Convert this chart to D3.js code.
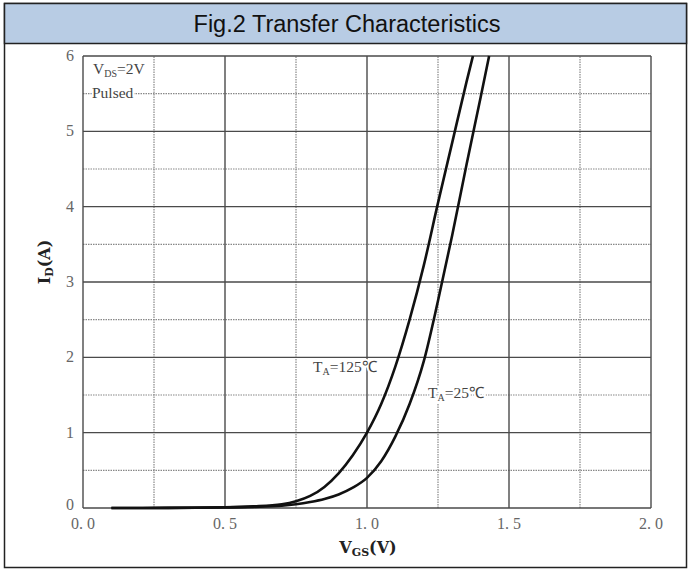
<!DOCTYPE html>
<html>
<head>
<meta charset="utf-8">
<script src="https://cdn.jsdelivr.net/npm/d3@7"></script>
<style>
  body { margin: 0; background: #fff; }
  svg { display: block; }
</style>
</head>
<body>
<script>
// chart values
var xTicks = [0, 0.5, 1.0, 1.5, 2.0];
var xTickLabels = ["0. 0", "0. 5", "1. 0", "1. 5", "2. 0"];
var yTicks = [0, 1, 2, 3, 4, 5, 6];

var vgs125 = [0.1, 0.3, 0.5, 0.6, 0.7, 0.75, 0.8, 0.85, 0.9, 0.95, 1.0, 1.05, 1.1, 1.15, 1.2, 1.25, 1.3, 1.35, 1.373];
var id125  = [0, 0.002, 0.01, 0.022, 0.05, 0.09, 0.16, 0.28, 0.46, 0.7, 1.0, 1.38, 1.88, 2.5, 3.22, 4.05, 4.85, 5.65, 6.0];

var vgs25 = [0.1, 0.3, 0.5, 0.6, 0.7, 0.75, 0.8, 0.85, 0.9, 0.95, 1.0, 1.05, 1.1, 1.15, 1.2, 1.25, 1.3, 1.35, 1.4, 1.43];
var id25  = [0, 0.002, 0.008, 0.015, 0.03, 0.05, 0.08, 0.12, 0.18, 0.27, 0.4, 0.62, 0.95, 1.38, 1.95, 2.75, 3.62, 4.55, 5.45, 6.0];

var seriesNames = ["125", "25"];

function main() {
    var W = 692, H = 572;
    var left = 83, right = 651, top = 56, bottom = 508;

    var svg = d3.select("body").append("svg")
        .attr("width", W)
        .attr("height", H);

    // outer frame + title band
    svg.append("rect")
        .attr("x", 4.5).attr("y", 3.5)
        .attr("width", 682).attr("height", 564)
        .attr("fill", "#fff").attr("stroke", "#222").attr("stroke-width", 1.5);
    svg.append("rect")
        .attr("x", 4.5).attr("y", 3.5)
        .attr("width", 682).attr("height", 40)
        .attr("fill", "#b8cce4").attr("stroke", "#222").attr("stroke-width", 1.5);
    svg.append("text")
        .attr("x", 347).attr("y", 32)
        .attr("text-anchor", "middle")
        .attr("font-family", "Liberation Sans, Arial, sans-serif")
        .attr("font-size", 23.5)
        .attr("fill", "#111")
        .text("Fig.2 Transfer Characteristics");

    var x = d3.scaleLinear().domain([0, 2]).range([left, right]);
    var y = d3.scaleLinear().domain([0, 6]).range([bottom, top]);

    // dotted minor grid
    var g = svg.append("g");
    d3.range(0.25, 2, 0.5).forEach(function (v) {
        g.append("line")
            .attr("x1", x(v)).attr("x2", x(v))
            .attr("y1", y(0)).attr("y2", y(6))
            .attr("stroke", "#888").attr("stroke-width", 1.2)
            .attr("stroke-dasharray", "1.5,1");
    });
    d3.range(0.5, 6, 1).forEach(function (v) {
        g.append("line")
            .attr("x1", x(0)).attr("x2", x(2))
            .attr("y1", y(v)).attr("y2", y(v))
            .attr("stroke", "#888").attr("stroke-width", 1.2)
            .attr("stroke-dasharray", "1.5,1");
    });

    // solid major grid
    g.selectAll(".vx").data(xTicks).enter().append("line")
        .attr("x1", function (d) { return x(d); })
        .attr("x2", function (d) { return x(d); })
        .attr("y1", y(0)).attr("y2", y(6))
        .attr("stroke", "#4a4a4a").attr("stroke-width", 1.4);
    g.selectAll(".hy").data(yTicks).enter().append("line")
        .attr("x1", x(0)).attr("x2", x(2))
        .attr("y1", function (d) { return y(d); })
        .attr("y2", function (d) { return y(d); })
        .attr("stroke", "#4a4a4a").attr("stroke-width", 1.4);

    // tick labels
    svg.selectAll(".xt").data(xTicks).enter().append("text")
        .attr("x", function (d) { return x(d); })
        .attr("y", bottom + 21)
        .attr("text-anchor", "middle")
        .attr("font-family", "Liberation Serif, serif")
        .attr("font-size", 16)
        .attr("fill", "#666")
        .text(function (d, i) { return xTickLabels[i]; });
    svg.selectAll(".yt").data(yTicks).enter().append("text")
        .attr("x", left - 13)
        .attr("y", function (d) { return y(d) + (d == 0 ? 2 : 5); })
        .attr("text-anchor", "middle")
        .attr("font-family", "Liberation Serif, serif")
        .attr("font-size", 16)
        .attr("fill", "#666")
        .text(function (d) { return d; });

    // axis titles
    var xl = svg.append("text")
        .attr("x", 368).attr("y", 553)
        .attr("text-anchor", "middle")
        .attr("font-family", "DejaVu Serif, serif")
        .attr("font-weight", "bold")
        .attr("font-size", 16)
        .attr("fill", "#222");
    xl.append("tspan").text("V");
    xl.append("tspan").attr("font-size", 11).attr("dy", 3).text("GS");
    xl.append("tspan").attr("dy", -3).text("(V)");

    var yl = svg.append("text")
        .attr("transform", "translate(50,262) rotate(-90)")
        .attr("text-anchor", "middle")
        .attr("font-family", "DejaVu Serif, serif")
        .attr("font-weight", "bold")
        .attr("font-size", 16)
        .attr("fill", "#222");
    yl.append("tspan").text("I");
    yl.append("tspan").attr("font-size", 11).attr("dy", 3).text("D");
    yl.append("tspan").attr("dy", -3).text("(A)");

    // curves
    var series = [
        { name: seriesNames[0], v: vgs125, i: id125 },
        { name: seriesNames[1], v: vgs25, i: id25 }
    ];
    var line = d3.line()
        .x(function (d) { return x(d[0]); })
        .y(function (d) { return y(d[1]); })
        .curve(d3.curveMonotoneX);

    svg.selectAll(".curve").data(series).enter().append("path")
        .attr("d", function (s) { return line(d3.zip(s.v, s.i)); })
        .attr("fill", "none")
        .attr("stroke", "#111")
        .attr("stroke-width", 2.6);

    // annotations
    function note(tx, ty, main, sub, rest) {
        var t = svg.append("text")
            .attr("x", tx).attr("y", ty)
            .attr("font-family", "Liberation Serif, serif")
            .attr("font-size", 15.5)
            .attr("fill", "#444")
            .attr("stroke", "#fff").attr("stroke-width", 4)
            .attr("paint-order", "stroke");
        t.append("tspan").text(main);
        if (sub) {
            t.append("tspan").attr("font-size", 10).attr("dy", 3).text(sub);
            t.append("tspan").attr("dy", -3).text(rest);
        }
    }
    note(93, 74, "V", "DS", "=2V");
    note(92, 98, "Pulsed", null, null);
    note(313, 372, "T", "A", "=125\u2103");
    note(428, 398, "T", "A", "=25\u2103");
}
main();
</script>
</body>
</html>
